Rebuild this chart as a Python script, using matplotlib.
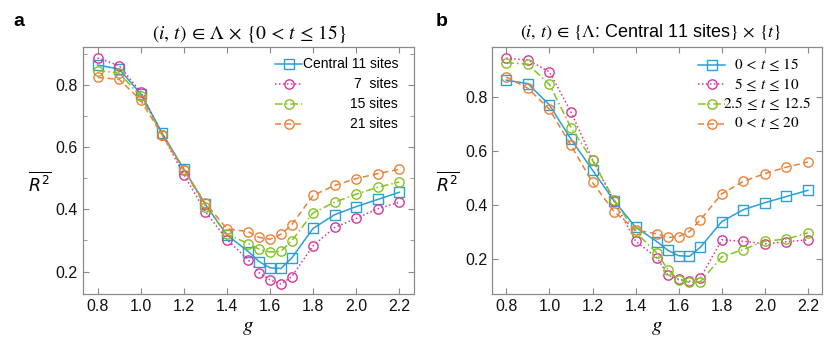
import matplotlib
matplotlib.use("Agg")
import matplotlib.pyplot as plt
from matplotlib.ticker import MultipleLocator, FormatStrFormatter

plt.rcParams['font.family'] = ['Liberation Sans', 'DejaVu Sans']

# ---------------- data ----------------
g = [0.8, 0.9, 1.0, 1.1, 1.2, 1.3, 1.4, 1.5, 1.55, 1.6, 1.65, 1.7, 1.8, 1.9, 2.0, 2.1, 2.2]

# panel a
central11 = [0.864, 0.851, 0.772, 0.645, 0.530, 0.416, 0.318, 0.264, 0.232, 0.212, 0.210, 0.243, 0.339, 0.383, 0.409, 0.432, 0.455]
sites7 = [0.887, 0.862, 0.778, 0.640, 0.512, 0.393, 0.303, 0.237, 0.196, 0.174, 0.160, 0.183, 0.283, 0.342, 0.371, 0.402, 0.423]
sites15 = [0.846, 0.838, 0.764, 0.640, 0.528, 0.409, 0.320, 0.290, 0.272, 0.263, 0.265, 0.298, 0.389, 0.423, 0.449, 0.471, 0.488]
sites21 = [0.824, 0.818, 0.751, 0.638, 0.527, 0.420, 0.338, 0.328, 0.310, 0.304, 0.320, 0.350, 0.445, 0.477, 0.499, 0.515, 0.529]

# panel b
t0_15 = central11
t5_10 = [0.945, 0.939, 0.895, 0.746, 0.569, 0.415, 0.266, 0.204, 0.140, 0.125, 0.117, 0.129, 0.271, 0.266, 0.256, 0.264, 0.271]
t25_125 = [0.929, 0.923, 0.848, 0.688, 0.566, 0.420, 0.300, 0.221, 0.160, 0.122, 0.113, 0.115, 0.208, 0.235, 0.266, 0.274, 0.297]
t0_20 = [0.875, 0.834, 0.756, 0.622, 0.484, 0.376, 0.308, 0.293, 0.280, 0.283, 0.302, 0.345, 0.442, 0.488, 0.517, 0.541, 0.560]

labels_a = ["Central 11 sites", "7  sites", "15 sites", "21 sites"]
labels_b = [r"$0\,<\,t\,\leq\,15$", r"$5\,\leq\,t\,\leq\,10$",
            r"$2.5\,\leq\,t\,\leq\,12.5$", r"$0\,<\,t\,\leq\,20$"]

BLUE = "#2a9fd8"
MAG = "#d4379c"
GREEN = "#82c41e"
ORANGE = "#ec8136"
SPINE = "#8a8a8a"

styles = [
    dict(color=BLUE, marker='s', ls='-'),
    dict(color=MAG, marker='o', ls=(0, (1, 1.6))),
    dict(color=GREEN, marker='o', ls=(0, (5, 2, 1, 2))),
    dict(color=ORANGE, marker='o', ls=(0, (4, 2.5))),
]

W, H = 830, 345
fig = plt.figure(figsize=(8.3, 3.45), dpi=100)
axL = fig.add_axes([82.7 / W, 1 - 294 / H, 331.3 / W, 247 / H])
axR = fig.add_axes([492.3 / W, 1 - 294 / H, 329.7 / W, 247 / H])


def draw(ax, series):
    for y, st in zip(series, styles):
        ax.plot(g, y, color=st['color'], ls=st['ls'], lw=1.1, marker=st['marker'],
                ms=6.7, mfc='none', mec=st['color'], mew=1.0)
    for s in ax.spines.values():
        s.set_color(SPINE)
        s.set_linewidth(0.9)
    ax.tick_params(which='both', direction='in', top=True, right=True,
                   color=SPINE, labelsize=11.5, labelcolor='#111111')
    ax.tick_params(which='major', length=4)
    ax.tick_params(which='minor', length=3)
    ax.xaxis.set_major_locator(MultipleLocator(0.2))
    ax.yaxis.set_major_locator(MultipleLocator(0.2))
    ax.xaxis.set_major_formatter(FormatStrFormatter('%.1f'))
    ax.yaxis.set_major_formatter(FormatStrFormatter('%.1f'))
    ax.set_xlabel(r"$g$", fontsize=15, math_fontfamily='stix')
    ax.xaxis.set_label_coords(0.5, -0.097)
    ax.set_ylabel(r"$\overline{R^2}$", fontsize=12.5, rotation=0, ha='center', va='center',
                  math_fontfamily='dejavusans')


draw(axL, [central11, sites7, sites15, sites21])
draw(axR, [t0_15, t5_10, t25_125, t0_20])

axL.set_xlim(0.731, 2.268)
axL.set_ylim(0.128, 0.922)
axL.yaxis.set_minor_locator(MultipleLocator(0.1))
axL.yaxis.set_label_coords(-0.129, 0.453)

axR.set_xlim(0.735, 2.265)
axR.set_ylim(0.07, 0.987)
axR.yaxis.set_label_coords(-0.134, 0.453)

axL.text(0.502, (294 - 23) / 247, r"$(i,\,t)\,\in\,\Lambda\,\times\,\{0\,<\,t\,\leq\,15\}$",
         transform=axL.transAxes, ha='center', va='top', fontsize=14, math_fontfamily='stix')
axR.text(0.481, (294 - 23) / 247, r"$(i,\,t)\,\in\,\{\Lambda$: Central 11 sites$\}\,\times\,\{t\}$",
         transform=axR.transAxes, ha='center', va='top', fontsize=13, math_fontfamily='stix')

fig.text(19 / W, 1 - 26.5 / H, "a", fontsize=14, fontweight='bold', ha='center', va='baseline')
fig.text(442 / W, 1 - 26.5 / H, "b", fontsize=14, fontweight='bold', ha='center', va='baseline')


# ---------------- legends (handles from legend, labels aligned as in reference) ----------------
def make_legend(ax, hx0, rows, fs):
    """hx0: left pixel of handles, rows: target pixel y-centres of rows."""
    handles = ax.get_lines()
    ls = 0.5
    ax_x, top_y = hx0, rows[0] - 8
    leg = None
    for _ in range(4):
        if leg is not None:
            leg.remove()
        leg = ax.legend(handles, [''] * len(handles), loc='upper left',
                        bbox_to_anchor=(ax_x / W, 1 - top_y / H), bbox_transform=fig.transFigure,
                        frameon=False, fontsize=fs, handlelength=2.0, handletextpad=0.0,
                        labelspacing=ls, borderpad=0, borderaxespad=0)
        fig.canvas.draw()
        r = fig.canvas.get_renderer()
        ext = [h.get_window_extent(r) for h in leg.legend_handles]
        ys = [H - (e.y0 + e.y1) / 2 for e in ext]
        xs0 = min(e.x0 for e in ext)
        spacing = (ys[-1] - ys[0]) / (len(ys) - 1)
        target = (rows[-1] - rows[0]) / (len(rows) - 1)
        ls += (target - spacing) / (fs * 100 / 72)
        top_y += rows[0] - ys[0]
        ax_x += hx0 - xs0
    return leg


make_legend(axL, 270, [64, 84, 104, 124], 10)
make_legend(axR, 693, [65, 84.5, 104, 123.5], 10)

for lab, y in zip(labels_a, [64, 84, 104, 124]):
    fig.text(398 / W, 1 - y / H, lab, ha='right', va='center', fontsize=10)
for lab, y in zip(labels_b, [65, 84.5, 104, 123.5]):
    fig.text(767 / W, 1 - y / H, lab, ha='center', va='center', fontsize=11,
             math_fontfamily='stix')

fig.savefig("out.png", dpi=100)
